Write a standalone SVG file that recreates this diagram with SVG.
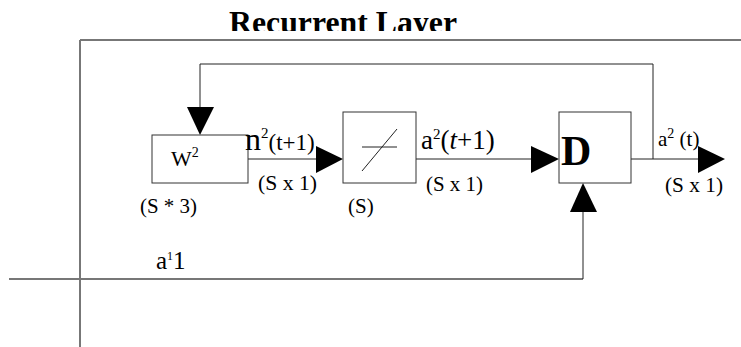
<svg xmlns="http://www.w3.org/2000/svg" width="741" height="347" viewBox="0 0 741 347">
<style>
text{font-family:"Liberation Serif","DejaVu Serif",serif;fill:#000}
.box{fill:#fff;stroke:#333;stroke-width:1}
.ln{fill:none;stroke:#222;stroke-width:1}
.frame{fill:none;stroke:#777;stroke-width:2}
.ah{fill:#000}
.s{font-size:21px}
</style>
<defs>
<clipPath id="tclip"><rect x="0" y="0" width="741" height="31"/></clipPath>
</defs>
<text x="229" y="33" font-size="31" font-weight="bold" clip-path="url(#tclip)" textLength="228" lengthAdjust="spacingAndGlyphs">Recurrent Layer</text>
<g id="frame">
<path class="frame" d="M80,40 H741 M80,40 V347"/>
</g>
<g id="connectors">
<path class="ln" d="M653,159 V64 H200 V108"/>
<polygon class="ah" points="187,107 214,107 200,135"/>
<path class="ln" d="M248,159 H318"/>
<polygon class="ah" points="316,146 343,159 316,173"/>
<path class="ln" d="M416,159 H533"/>
<polygon class="ah" points="531,146 559,159 531,173"/>
<path class="ln" d="M631,159 H700"/>
<polygon class="ah" points="698,146 725,159 698,173"/>
<path class="frame" d="M9,279 H583"/>
<path class="ln" d="M583,279 V210"/>
<polygon class="ah" points="570,212 597,212 583,183"/>
</g>
<g id="w2">
<rect class="box" x="152" y="135" width="96" height="48"/>
<text x="171" y="166" font-size="22">W<tspan font-size="14" dy="-9">2</tspan></text>
<text x="140" y="213" class="s" textLength="57" lengthAdjust="spacingAndGlyphs">(S * 3)</text>
</g>
<g id="tf">
<rect class="box" x="343" y="112" width="73" height="71"/>
<path class="ln" d="M362,147 H397 M362,171 L397,129"/>
<text x="348" y="213" class="s">(S)</text>
</g>
<g id="delay">
<rect class="box" x="559" y="112" width="72" height="71"/>
<text x="561" y="165" font-size="42" font-weight="bold">D</text>
</g>
<g id="labels">
<text x="245" y="150" font-size="32">n<tspan font-size="15" dy="-12">2</tspan><tspan font-size="23" dy="12">(t+1)</tspan></text>
<text x="258" y="190" class="s" textLength="59" lengthAdjust="spacingAndGlyphs">(S x 1)</text>
<text x="421" y="149" font-size="27">a<tspan font-size="15" dy="-10">2</tspan><tspan dy="10">(</tspan><tspan font-style="italic">t</tspan>+1)</text>
<text x="426" y="191" class="s" textLength="57" lengthAdjust="spacingAndGlyphs">(S x 1)</text>
<text x="658" y="146" font-size="21">a<tspan font-size="14" dy="-8">2</tspan><tspan dy="8"> (t)</tspan></text>
<text x="665" y="192" class="s" textLength="58" lengthAdjust="spacingAndGlyphs">(S x 1)</text>
<text x="156" y="269" font-size="25">a<tspan font-size="12" dy="-9">1</tspan><tspan dy="9">1</tspan></text>
</g>
</svg>
